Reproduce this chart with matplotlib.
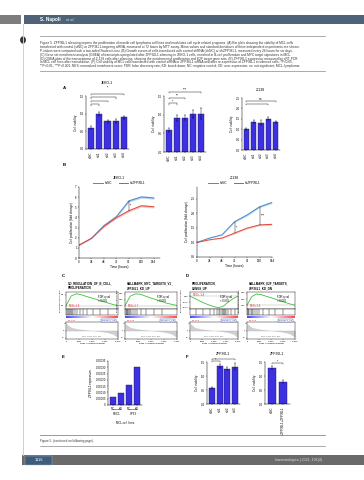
import numpy as np
import matplotlib
matplotlib.use("Agg")
import matplotlib.pyplot as plt
from matplotlib.patches import Rectangle, Circle
from matplotlib.lines import Line2D

plt.rcParams["font.family"] = ["Liberation Sans", "DejaVu Sans"]

W, H = 364, 480

# ── Colours ──
BAR = "#3d2fe2"
BAR_EDGE = "#1c1a55"
BLUE = "#4a88c9"
RED = "#e2493b"
GREEN = "#3cc23c"
SLATE = "#4e6378"
GREY_BAR = "#6a6a6a"
TXT = "#333333"

# ── Data: panel A (cell viability) ──
A_labels = ["siNC", "si#1", "si#2", "si#3", "si#4"]
A1_vals = [0.60, 0.99, 0.78, 0.80, 0.90]
A1_err = [0.04, 0.05, 0.04, 0.05, 0.04]
A2_vals = [0.59, 0.92, 0.92, 1.02, 1.03]
A2_err = [0.05, 0.08, 0.07, 0.10, 0.14]
A3_vals = [1.00, 1.35, 1.30, 1.50, 1.35]
A3_err = [0.05, 0.07, 0.12, 0.08, 0.06]
A_titles = ["JEKO-1", "", "Z-138"]

# ── Data: panel B (growth curves) ──
B_time = [0, 24, 48, 72, 96, 120, 144]
B1_ctrl = [1.26, 1.94, 3.20, 4.08, 5.63, 6.02, 5.92]
B1_kd = [1.26, 1.94, 3.10, 3.98, 4.66, 5.15, 5.05]
B2_ctrl = [1.00, 1.15, 1.26, 1.71, 1.94, 2.22, 2.37]
B2_kd = [1.00, 1.09, 1.15, 1.32, 1.49, 1.60, 1.62]
B_err = [0.05, 0.08, 0.15, 0.25, 0.30, 0.30, 0.30]
B_titles = ["JEKO-1", "Z-138"]
B_legend = ["shNC", "shZFP36L1"]

# ── Data: panels C/D (GSEA) ──
RANK_PTS = [0.0, 0.1, 0.2, 0.3, 0.4, 0.5, 0.6, 0.7, 0.8, 0.9, 1.0]
GSEA_titles = ["GO_REGULATION_OF_B_CELL_\nPROLIFERATION",
               "HALLMARK_MYC_TARGETS_V1_\nZFP36L1_KD_UP",
               "PROLIFERATION_\nGENES_UP",
               "HALLMARK_E2F_TARGETS_\nZFP36L1_KD_DN"]
GSEA_es = [
    [0.0, 0.45, 0.55, 0.50, 0.42, 0.35, 0.28, 0.20, 0.13, 0.06, 0.0],
    [0.0, 0.40, 0.50, 0.48, 0.40, 0.32, 0.25, 0.18, 0.10, 0.05, 0.0],
    [0.0, -0.10, -0.20, -0.30, -0.38, -0.45, -0.50, -0.42, -0.25, -0.10, 0.0],
    [0.0, 0.35, 0.45, 0.42, 0.36, 0.30, 0.24, 0.17, 0.11, 0.05, 0.0],
]
GSEA_hits = [
    [0.02, 0.04, 0.05, 0.07, 0.09, 0.11, 0.14, 0.18, 0.22, 0.27, 0.33, 0.41, 0.52, 0.66, 0.81],
    [0.01, 0.03, 0.04, 0.06, 0.08, 0.10, 0.12, 0.15, 0.19, 0.24, 0.31, 0.40, 0.55, 0.72],
    [0.12, 0.28, 0.41, 0.50, 0.56, 0.60, 0.63, 0.66, 0.68, 0.70, 0.73, 0.76, 0.80, 0.86, 0.93],
    [0.02, 0.03, 0.05, 0.08, 0.10, 0.13, 0.17, 0.21, 0.26, 0.34, 0.45, 0.58, 0.74],
]
GSEA_nes = ["NES=1.9", "NES=1.7", "NES=-1.8", "NES=1.6"]
RANK_METRIC = [1.0, 0.45, 0.28, 0.17, 0.08, 0.0, -0.08, -0.18, -0.3, -0.5, -1.0]

# ── Data: panel E ──
E_labels = ["NC", "KD", "NC", "KD"]
E_groups = ["REC1", "SP53"]
E_vals = [0.000061, 0.000093, 0.000159, 0.000305]

# ── Data: panel F ──
F1_labels = ["siNC", "si#1", "si#2", "si#3"]
F1_vals = [0.57, 1.36, 1.26, 1.33]
F1_err = [0.04, 0.08, 0.06, 0.12]
F2_labels = ["siNC", "siZFP36L1+ZFP36L1"]
F2_vals = [1.30, 0.79]
F2_err = [0.06, 0.05]

CAPTION = [
    "Figure 5. ZFP36L1 silencing impairs the proliferation of mantle cell lymphoma cell lines and modulates cell cycle related programs. (A) Bar plots showing the viability of MCL cells",
    "transfected with control (siNC) or ZFP36L1-targeting siRNA, measured at 72 hours by MTT assay. Mean values and standard deviations of three independent experiments are shown.",
    "P-values were computed with a two-sided Student t-test. (B) Growth curves of cells transduced with control shRNA (shNC) or shZFP36L1, measured every 24 hours for six days.",
    "(C) Gene set enrichment analysis (GSEA) of transcripts upregulated after ZFP36L1 silencing in JEKO-1 cells, enriched in B-cell proliferation and MYC target signatures in MCL.",
    "(D) GSEA plots of the transcriptome of Z-138 cells after silencing, showing the enrichment of proliferation and E2F target gene sets. (E) ZFP36L1 expression measured by qRT-PCR",
    "in MCL cell lines after transduction. (F) Cell viability of MCL cells transfected with control siRNA or ZFP36L1 siRNA and after re-expression of ZFP36L1 in silenced cells; *P<0.05,",
    "**P<0.01, ***P<0.001. NES: normalized enrichment score; FDR: false discovery rate; KD: knock-down; NC: negative control; OE: over-expression; ns: not significant; MCL: lymphoma.",
]

fig = plt.figure(figsize=(W / 100, H / 100), dpi=100)
fig.patch.set_facecolor("white")


def add_ax(x0, y0, x1, y1):
    return fig.add_axes([x0 / W, 1 - y1 / H, (x1 - x0) / W, (y1 - y0) / H])


def ptext(x, y, s, **kw):
    kw.setdefault("va", "center")
    fig.text(x / W, 1 - y / H, s, **kw)


def prect(x0, y0, x1, y1, **kw):
    fig.add_artist(Rectangle((x0 / W, 1 - y1 / H), (x1 - x0) / W, (y1 - y0) / H,
                             transform=fig.transFigure, **kw))


def pline(x0, y0, x1, y1, **kw):
    fig.add_artist(Line2D([x0 / W, x1 / W], [1 - y0 / H, 1 - y1 / H],
                          transform=fig.transFigure, **kw))


def style(ax, fs=2.2):
    for s in ["top", "right"]:
        ax.spines[s].set_visible(False)
    for s in ["left", "bottom"]:
        ax.spines[s].set_linewidth(0.35)
    ax.tick_params(labelsize=fs, width=0.3, length=1, pad=0.5)


def bar_panel(box, vals, errs, labels, ylim, yticks, ylabel, brackets=(), title=""):
    ax = add_ax(*box)
    style(ax)
    x = np.arange(len(vals))
    ax.bar(x, vals, width=0.75, color=BAR, edgecolor=BAR_EDGE, linewidth=0.3,
           yerr=errs, error_kw=dict(elinewidth=0.3, capsize=0.6, capthick=0.3))
    ax.set_xlim(-0.6, len(vals) - 0.4)
    ax.set_ylim(*ylim)
    ax.set_yticks(yticks)
    ax.set_xticks(x)
    ax.set_xticklabels(labels, rotation=90)
    ax.set_ylabel(ylabel, fontsize=2.2, labelpad=1)
    for i, j, yb, lab in brackets:
        d = (ylim[1] - ylim[0]) * 0.025
        ax.plot([i, i, j, j], [yb - d, yb, yb, yb - d], color="black", lw=0.3,
                clip_on=False)
        ax.text((i + j) / 2, yb, lab, ha="center", va="bottom", fontsize=2.4)
    if title:
        ax.set_title(title, fontsize=2.5, pad=5)
    return ax


# ── Header / page furniture ──
prect(0, 15, 21, 24, color="#7d7d7d", lw=0)
prect(24, 15, 364, 24, color=SLATE, lw=0)
ptext(40, 19.8, "S. Napoli", color="white", fontsize=3.4, fontweight="bold")
ptext(66, 20, "et al.", color="#dfe6ee", fontsize=2.8, style="italic")
pline(23, 24, 23, 455, color="#cfcfcf", lw=0.7)
fig.add_artist(Circle((23 / W, 1 - 40 / H), 2.2 / W, transform=fig.transFigure,
                      color="#333333"))
pline(40, 36, 325, 36, color="#888888", lw=0.5)
for k, line in enumerate(CAPTION):
    ptext(40, 43 + k * 3.9, line, fontsize=2.3, color=TXT)
pline(40, 71, 325, 71, color="#888888", lw=0.5)

# ── Panel labels ──
for lab, x, y in [("A", 64, 88), ("B", 64, 165), ("C", 63, 276),
                  ("D", 187, 276), ("E", 63, 357), ("F", 187, 357)]:
    ptext(x, y, lab, fontsize=3.2, fontweight="bold", ha="center")

# ── Panel A ──
bar_panel((86, 96, 129, 149), A1_vals, A1_err, A_labels, (0, 1.5),
          [0, 0.5, 1.0, 1.5], "Cell viability",
          [(0, 4, 1.56, ""), (0, 3, 1.46, ""), (0, 2, 1.36, ""), (0, 1, 1.26, "")],
          title=A_titles[0] + "\n*")
bar_panel((164, 96, 206, 152), A2_vals, A2_err, A_labels, (0, 1.5),
          [0, 0.5, 1.0, 1.5], "Cell viability",
          [(0, 1, 1.30, "*"), (0, 2, 1.45, "**"), (0, 4, 1.62, "***")])
bar_panel((242, 98, 280, 150), A3_vals, A3_err, A_labels, (0, 2.5),
          [0, 0.5, 1.0, 1.5, 2.0, 2.5], "Cell viability",
          [(0, 3, 2.21, ""), (0, 4, 2.37, "ns")], title=A_titles[2])

# ── Panel B ──
for box, ctrl, kd, ylim, yticks, title, stars in [
        ((79, 187, 160, 258), B1_ctrl, B1_kd, (0, 7), range(0, 8), B_titles[0],
         [(96, "*")]),
        ((197, 187, 272, 257), B2_ctrl, B2_kd, (0.5, 2.9), [0.5, 1, 1.5, 2, 2.5],
         B_titles[1], [(72, "*"), (120, "***")])]:
    ax = add_ax(*box)
    style(ax)
    scale = 0.1 if ylim[1] < 5 else 0.4
    err = [e * scale for e in B_err]
    ax.fill_between(B_time, [c - e for c, e in zip(ctrl, err)],
                    [c + e for c, e in zip(ctrl, err)], color="#bcd6ee", lw=0)
    ax.fill_between(B_time, [c - e for c, e in zip(kd, err)],
                    [c + e for c, e in zip(kd, err)], color="#f6c9c2", lw=0)
    ax.plot(B_time, ctrl, color=BLUE, lw=0.7, label=B_legend[0])
    ax.plot(B_time, kd, color=RED, lw=0.7, label=B_legend[1])
    for t, s in stars:
        i = B_time.index(t)
        ax.plot([t, t], [kd[i], ctrl[i]], color="black", lw=0.3)
        ax.text(t + 3, (kd[i] + ctrl[i]) / 2, s, fontsize=2.4, va="center")
    ax.set_xlim(0, 156 if ylim[1] > 5 else 144)
    ax.set_ylim(*ylim)
    ax.set_xticks(B_time)
    ax.set_yticks(list(yticks))
    ax.set_xlabel("Time (hours)", fontsize=2.3, labelpad=1)
    ax.set_ylabel("Cell proliferation (fold change)", fontsize=2.2, labelpad=1)
    ax.set_title(title, fontsize=2.5, pad=6)
    ax.legend(fontsize=2.2, ncol=2, frameon=False, loc="lower center",
              bbox_to_anchor=(0.5, 0.99), handlelength=3, columnspacing=2)

# ── Panels C/D (GSEA) ──
gsea_x = [(66, 118), (125, 177), (190, 238), (247, 295)]
for (x0, x1), title, es, hits, nes in zip(gsea_x, GSEA_titles, GSEA_es,
                                          GSEA_hits, GSEA_nes):
    ptext(x0 + 2, 286, title, fontsize=2.1, fontweight="bold", ha="left",
          linespacing=1.1)
    ax = add_ax(x0, 292, x1, 309)
    ax.plot(RANK_PTS, es, color=GREEN, lw=0.6)
    ax.axhline(0, color="#999999", lw=0.25)
    ax.set_xlim(0, 1)
    lo = min(min(es), -0.1) - 0.05
    hi = max(max(es), 0.1) + 0.08
    ax.set_ylim(lo, hi)
    ax.set_xticks([])
    ax.tick_params(labelsize=1.6, width=0.25, length=0.8, pad=0.3)
    ax.set_ylabel("Enrichment score (ES)", fontsize=1.6, labelpad=0.5)
    for s in ax.spines.values():
        s.set_linewidth(0.3)
    ax.text(0.62, 0.6, "FDR q-val\n< 0.001", transform=ax.transAxes, fontsize=1.9,
            va="center", linespacing=1.0)
    ax.text(0.06, 0.18 if es[2] > 0 else 0.82, nes, transform=ax.transAxes,
            fontsize=2.0, color="#d8242b", va="center")

    hx = add_ax(x0, 309, x1, 315)
    hx.vlines(hits, 0, 1, color="black", lw=0.3)
    hx.set_xlim(0, 1)
    hx.set_ylim(0, 1)
    hx.set_xticks([])
    hx.set_yticks([])
    for s in hx.spines.values():
        s.set_linewidth(0.3)

    cx = add_ax(x0, 315.5, x1, 318.5)
    cx.imshow([np.linspace(1, -1, 100)], aspect="auto", cmap="bwr_r",
              extent=(0, 1, 0, 1), vmin=-1.4, vmax=1.4)
    cx.axis("off")
    ptext(x0 + 2, 320.5, "na_pos", fontsize=1.7, color="#d8242b", ha="left")
    ptext(x1 - 2, 320.5, "ZFP36L1_kd", fontsize=1.7, color="#2b3f9e", ha="right",
          bbox=dict(boxstyle="square,pad=0.2", fc="white", ec="#2b3f9e", lw=0.3))

    mx = add_ax(x0, 322, x1, 339)
    mx.fill_between(RANK_PTS, RANK_METRIC, 0, color="#cfcfcf", lw=0)
    mx.axhline(0, color="#aaaaaa", lw=0.25)
    mx.set_xlim(0, 1)
    mx.set_ylim(-1.2, 1.2)
    mx.set_xticks([0, 0.25, 0.5, 0.75, 1.0])
    mx.set_xticklabels(["0", "5,000", "10,000", "15,000", "20,000"])
    mx.set_yticks([-1, 0, 1])
    mx.tick_params(labelsize=1.5, width=0.25, length=0.8, pad=0.3)
    for s in mx.spines.values():
        s.set_linewidth(0.3)
    mx.set_xlabel("Rank in Ordered Dataset", fontsize=1.6, labelpad=0.5)
    mx.text(0.5, 0.12, "Zero cross at 11,842", transform=mx.transAxes,
            fontsize=1.5, ha="center", color="#666666")

# ── Panel E ──
ax = add_ax(108, 361, 142, 405)
style(ax, fs=2.0)
x = np.arange(len(E_vals))
ax.bar(x, E_vals, width=0.75, color=BAR, edgecolor=BAR_EDGE, linewidth=0.3)
ax.set_xlim(-0.6, len(E_vals) - 0.4)
ax.set_ylim(0, 0.00035)
ax.set_yticks([0, 0.00005, 0.0001, 0.00015, 0.0002, 0.00025, 0.0003, 0.00035])
ax.set_yticklabels(["0", "0.00005", "0.00010", "0.00015", "0.00020",
                    "0.00025", "0.00030", "0.00035"])
ax.set_xticks(x)
ax.set_xticklabels(E_labels)
ax.set_ylabel("ZFP36L1 expression", fontsize=2.2, labelpad=1.5)
for g, (a, b) in enumerate([(0, 1), (2, 3)]):
    ax.annotate("", xy=(a - 0.35, -0.10), xytext=(b + 0.35, -0.10),
                xycoords=("data", "axes fraction"),
                arrowprops=dict(arrowstyle="-", lw=0.3))
    ax.text((a + b) / 2, -0.17, E_groups[g], transform=ax.get_xaxis_transform(),
            ha="center", va="top", fontsize=2.1)
ax.text(0.5, -0.36, "MCL cell lines", transform=ax.transAxes, ha="center",
        va="top", fontsize=2.1)

# ── Panel F ──
bar_panel((207, 362, 240, 404), F1_vals, F1_err, F1_labels, (0, 1.5),
          [0, 0.5, 1.0, 1.5], "Cell viability",
          [(0, 1, 1.52, "*"), (0, 3, 1.62, "")], title="ZFP36L1")
bar_panel((265, 362, 290, 404), F2_vals, F2_err, F2_labels, (0, 1.5),
          [0, 0.5, 1.0, 1.5], "Cell viability",
          [(0, 1, 1.45, "*")], title="ZFP36L1")

# ── Footer ──
pline(40, 435, 325, 435, color="#888888", lw=0.6)
ptext(40, 441, "Figure 5. (continued on following page).", fontsize=2.2,
      color=TXT)
pline(40, 446, 325, 446, color="#888888", lw=0.5)
prect(22, 455, 364, 465, color=GREY_BAR, lw=0)
prect(25, 455.5, 52, 464.5, color="#3e5c7c", ec="#9fb3c8", lw=0.3)
ptext(38.5, 460, "1116", fontsize=2.8, color="white", ha="center")
ptext(322, 460, "haematologica | 2021; 106(4)", fontsize=2.6, color="#dddddd",
      ha="right")

fig.savefig("out.png", dpi=100, facecolor="white")
